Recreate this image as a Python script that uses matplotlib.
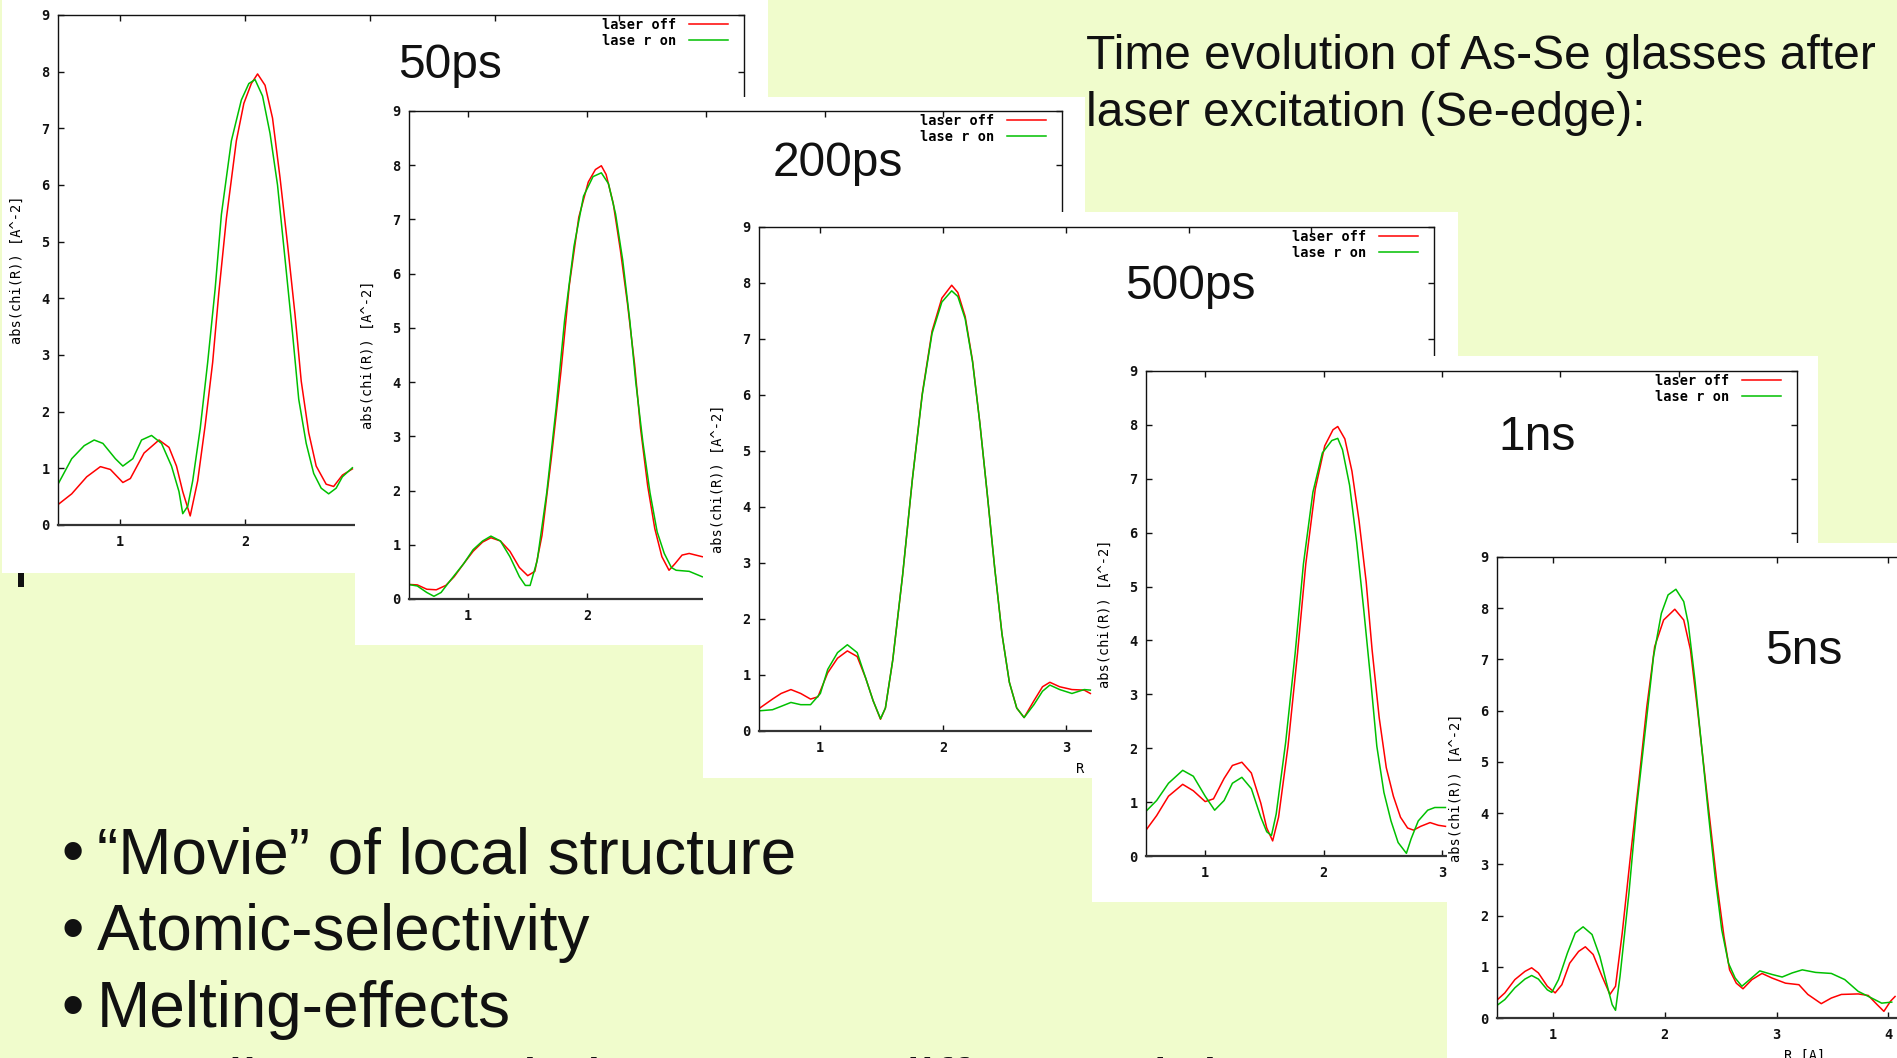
import matplotlib
matplotlib.use('Agg')
import matplotlib.pyplot as plt
from matplotlib.patches import Rectangle

W, H = 1897, 1058
BG = '#F0FCCC'
RED = '#FF0000'
GREEN = '#00C000'

# ---------------- data (R in Angstrom, |chi(R)| in A^-2) ----------------
delays = ['50ps', '200ps', '500ps', '1ns', '5ns']
legend_labels = ['laser off', 'lase r on']
x_ticks = [1, 2, 3, 4, 5]
y_ticks = [0, 1, 2, 3, 4, 5, 6, 7, 8, 9]
y_label = 'abs(chi(R)) [A^-2]'
x_label = 'R [A]'

# 50 ps
r_off_1 = [0.50, 0.61, 0.73, 0.84, 0.92, 1.02, 1.08, 1.19, 1.31, 1.39, 1.45, 1.50, 1.56, 1.62, 1.68, 1.74, 1.79,
           1.85, 1.93, 1.99, 2.05, 2.10, 2.16, 2.22, 2.28, 2.34, 2.40, 2.45, 2.51, 2.57, 2.65, 2.71, 2.78, 2.86]
v_off_1 = [0.36, 0.55, 0.85, 1.03, 0.98, 0.75, 0.82, 1.27, 1.50, 1.37, 1.04, 0.59, 0.16, 0.78, 1.76, 2.87, 4.11,
           5.41, 6.78, 7.44, 7.79, 7.96, 7.76, 7.18, 6.13, 4.96, 3.72, 2.54, 1.63, 1.04, 0.72, 0.68, 0.88, 0.99]
r_on_1 = [0.50, 0.61, 0.71, 0.79, 0.86, 0.96, 1.02, 1.10, 1.17, 1.25, 1.33, 1.41, 1.47, 1.50, 1.54, 1.58, 1.64,
          1.70, 1.76, 1.81, 1.89, 1.97, 2.03, 2.08, 2.14, 2.20, 2.26, 2.32, 2.38, 2.43, 2.49, 2.55, 2.61, 2.67,
          2.73, 2.78, 2.86]
v_on_1 = [0.72, 1.17, 1.40, 1.50, 1.44, 1.17, 1.04, 1.17, 1.50, 1.58, 1.44, 1.04, 0.59, 0.20, 0.33, 0.78, 1.70,
          2.87, 4.17, 5.48, 6.78, 7.50, 7.79, 7.86, 7.57, 6.91, 6.00, 4.70, 3.39, 2.22, 1.44, 0.91, 0.65, 0.55,
          0.65, 0.85, 1.01]

# 200 ps
r_off_2 = [0.49, 0.57, 0.65, 0.73, 0.81, 0.88, 0.96, 1.04, 1.12, 1.19, 1.27, 1.35, 1.43, 1.50, 1.56, 1.62, 1.70,
           1.78, 1.85, 1.93, 2.01, 2.07, 2.12, 2.16, 2.22, 2.28, 2.34, 2.40, 2.45, 2.51, 2.57, 2.63, 2.69, 2.74,
           2.80, 2.86, 2.97]
v_off_2 = [0.27, 0.26, 0.18, 0.17, 0.25, 0.41, 0.65, 0.88, 1.05, 1.13, 1.07, 0.88, 0.58, 0.43, 0.51, 1.17, 2.62,
           4.20, 5.78, 7.04, 7.69, 7.92, 7.99, 7.83, 7.30, 6.44, 5.45, 4.33, 3.15, 2.09, 1.30, 0.78, 0.53, 0.65,
           0.81, 0.84, 0.78]
r_on_2 = [0.49, 0.57, 0.65, 0.71, 0.77, 0.84, 0.96, 1.04, 1.12, 1.19, 1.27, 1.35, 1.43, 1.48, 1.52, 1.58, 1.66,
          1.74, 1.81, 1.89, 1.97, 2.05, 2.12, 2.18, 2.24, 2.30, 2.36, 2.41, 2.47, 2.53, 2.59, 2.65, 2.71, 2.75,
          2.86, 2.97]
v_on_2 = [0.27, 0.24, 0.12, 0.05, 0.12, 0.32, 0.65, 0.91, 1.07, 1.16, 1.07, 0.78, 0.41, 0.25, 0.25, 0.71, 1.96,
          3.54, 5.13, 6.51, 7.43, 7.79, 7.86, 7.66, 7.10, 6.25, 5.13, 4.00, 2.89, 1.96, 1.24, 0.84, 0.58, 0.53,
          0.51, 0.41]

# 500 ps
r_off_3 = [0.50, 0.61, 0.68, 0.76, 0.84, 0.92, 0.98, 1.06, 1.14, 1.22, 1.30, 1.37, 1.43, 1.49, 1.53, 1.59, 1.67,
           1.75, 1.83, 1.91, 1.99, 2.07, 2.12, 2.18, 2.24, 2.30, 2.36, 2.42, 2.48, 2.54, 2.60, 2.66, 2.74, 2.81,
           2.87, 2.95, 3.05, 3.15, 3.20]
v_off_3 = [0.40, 0.57, 0.67, 0.74, 0.67, 0.57, 0.61, 1.04, 1.30, 1.43, 1.33, 0.94, 0.54, 0.21, 0.41, 1.27, 2.78,
           4.50, 6.02, 7.14, 7.73, 7.96, 7.83, 7.40, 6.61, 5.49, 4.23, 2.92, 1.73, 0.87, 0.41, 0.24, 0.54, 0.79,
           0.87, 0.79, 0.74, 0.73, 0.67]
r_on_3 = [0.50, 0.61, 0.68, 0.76, 0.84, 0.92, 1.00, 1.06, 1.14, 1.22, 1.30, 1.37, 1.43, 1.49, 1.53, 1.59, 1.67,
          1.75, 1.83, 1.91, 1.99, 2.07, 2.12, 2.18, 2.24, 2.30, 2.36, 2.42, 2.48, 2.54, 2.60, 2.66, 2.74, 2.81,
          2.87, 2.95, 3.05, 3.15, 3.20]
v_on_3 = [0.36, 0.38, 0.44, 0.51, 0.47, 0.47, 0.67, 1.10, 1.40, 1.54, 1.40, 0.94, 0.54, 0.22, 0.41, 1.27, 2.78,
          4.50, 6.00, 7.10, 7.66, 7.86, 7.76, 7.36, 6.59, 5.49, 4.23, 2.92, 1.73, 0.87, 0.41, 0.24, 0.47, 0.71,
          0.82, 0.74, 0.67, 0.74, 0.73]

# 1 ns
r_off_4 = [0.50, 0.59, 0.69, 0.81, 0.90, 1.00, 1.07, 1.16, 1.23, 1.31, 1.39, 1.47, 1.52, 1.57, 1.62, 1.70, 1.78,
           1.85, 1.93, 2.01, 2.08, 2.12, 2.18, 2.24, 2.30, 2.36, 2.41, 2.47, 2.53, 2.59, 2.65, 2.71, 2.76, 2.82,
           2.90, 2.97, 3.03]
v_off_4 = [0.48, 0.75, 1.11, 1.33, 1.21, 1.01, 1.06, 1.44, 1.68, 1.74, 1.54, 0.98, 0.52, 0.28, 0.72, 2.04, 3.76,
           5.42, 6.81, 7.61, 7.91, 7.97, 7.74, 7.14, 6.22, 5.09, 3.83, 2.57, 1.64, 1.11, 0.72, 0.52, 0.48, 0.55,
           0.62, 0.57, 0.55]
r_on_4 = [0.50, 0.59, 0.69, 0.81, 0.90, 1.00, 1.08, 1.16, 1.23, 1.31, 1.39, 1.47, 1.52, 1.56, 1.60, 1.68, 1.76,
          1.83, 1.91, 1.99, 2.07, 2.12, 2.16, 2.22, 2.28, 2.34, 2.40, 2.45, 2.51, 2.57, 2.63, 2.70, 2.74, 2.80,
          2.88, 2.94, 3.03]
v_on_4 = [0.83, 1.03, 1.35, 1.59, 1.48, 1.11, 0.85, 1.03, 1.35, 1.46, 1.25, 0.72, 0.45, 0.38, 0.78, 2.11, 3.76,
          5.42, 6.75, 7.48, 7.71, 7.75, 7.54, 6.88, 5.82, 4.56, 3.23, 2.04, 1.18, 0.65, 0.25, 0.05, 0.32, 0.65,
          0.85, 0.90, 0.90]

# 5 ns
r_off_5 = [0.49, 0.57, 0.66, 0.75, 0.81, 0.87, 0.95, 1.02, 1.08, 1.15, 1.23, 1.29, 1.36, 1.44, 1.51, 1.56, 1.62,
           1.69, 1.77, 1.84, 1.91, 1.99, 2.09, 2.17, 2.23, 2.29, 2.35, 2.41, 2.47, 2.53, 2.58, 2.64, 2.70, 2.78,
           2.87, 2.96, 3.08, 3.20, 3.28, 3.40, 3.49, 3.58, 3.73, 3.82, 3.90, 3.96, 4.02, 4.06]
v_off_5 = [0.33, 0.49, 0.75, 0.91, 0.98, 0.88, 0.62, 0.49, 0.65, 1.07, 1.30, 1.39, 1.24, 0.81, 0.46, 0.62, 1.66,
           3.09, 4.65, 6.08, 7.25, 7.77, 7.98, 7.77, 7.19, 6.08, 4.91, 3.74, 2.57, 1.59, 0.94, 0.68, 0.57, 0.75,
           0.87, 0.78, 0.68, 0.65, 0.46, 0.28, 0.39, 0.46, 0.47, 0.44, 0.26, 0.13, 0.33, 0.42]
r_on_5 = [0.49, 0.57, 0.66, 0.75, 0.81, 0.87, 0.95, 0.99, 1.05, 1.13, 1.20, 1.27, 1.35, 1.42, 1.48, 1.53, 1.56,
          1.60, 1.68, 1.75, 1.83, 1.90, 1.97, 2.03, 2.10, 2.17, 2.21, 2.27, 2.33, 2.39, 2.45, 2.51, 2.57, 2.63,
          2.69, 2.76, 2.85, 2.96, 3.05, 3.14, 3.23, 3.35, 3.49, 3.61, 3.73, 3.85, 3.94, 4.03]
v_on_5 = [0.23, 0.36, 0.59, 0.76, 0.83, 0.76, 0.55, 0.50, 0.75, 1.27, 1.66, 1.78, 1.63, 1.20, 0.68, 0.26, 0.15,
          0.81, 2.44, 4.13, 5.69, 7.06, 7.90, 8.26, 8.37, 8.13, 7.71, 6.60, 5.30, 4.00, 2.77, 1.72, 1.07, 0.78,
          0.62, 0.75, 0.92, 0.85, 0.80, 0.88, 0.94, 0.89, 0.87, 0.75, 0.52, 0.39, 0.29, 0.31]

title_lines = ['Time evolution of As-Se glasses after', 'laser excitation (Se-edge):']
bullets = ['\u201cMovie\u201d of local structure', 'Atomic-selectivity', 'Melting-effects',
           'Small structural changes at different delays']

off_r = [r_off_1, r_off_2, r_off_3, r_off_4, r_off_5]
off_v = [v_off_1, v_off_2, v_off_3, v_off_4, v_off_5]
on_r = [r_on_1, r_on_2, r_on_3, r_on_4, r_on_5]
on_v = [v_on_1, v_on_2, v_on_3, v_on_4, v_on_5]

# ---------------- layout (pixel boxes: left, top, right, bottom) ----------------
axes_px = [(58, 15, 744, 525), (409, 111, 1062, 599), (759, 227, 1434, 731),
           (1146, 371, 1797, 856), (1497, 557, 2112, 1018)]
white_px = [(2, 0, 768, 573), (355, 97, 1085, 645), (703, 212, 1458, 778),
            (1092, 356, 1818, 902), (1447, 543, 1897, 1058)]
label_px = [(398, 78), (773, 176), (1125, 299), (1498, 450), (1765, 664)]

plt.rcParams['font.family'] = 'DejaVu Sans Mono'
plt.rcParams['font.weight'] = 'bold'

fig = plt.figure(figsize=(W / 100, H / 100), dpi=100)
fig.patch.set_facecolor(BG)

GP = 9.8
for i in range(5):
    l, t, r, b = axes_px[i]
    w, h = r - l, b - t
    wl, wt, wr, wb = white_px[i]
    fig.add_artist(Rectangle((wl / W, 1 - wb / H), (wr - wl) / W, (wb - wt) / H,
                             transform=fig.transFigure, facecolor='white',
                             edgecolor='none', zorder=10 * (i + 1)))
    ax = fig.add_axes([l / W, 1 - b / H, w / W, h / H])
    ax.set_zorder(10 * (i + 1) + 1)
    ax.set_facecolor('none')
    ax.plot(off_r[i], off_v[i], color=RED, lw=1.1, label=legend_labels[0],
            solid_joinstyle='round')
    ax.plot(on_r[i], on_v[i], color=GREEN, lw=1.1, label=legend_labels[1],
            solid_joinstyle='round')
    ax.set_xlim(0.5, 6)
    ax.set_ylim(0, 9)
    ax.set_xticks(x_ticks)
    ax.set_yticks(y_ticks)
    ax.tick_params(direction='in', top=True, right=True, length=4, width=1,
                   labelsize=GP, color='#111111', labelcolor='#111111')
    ax.tick_params(axis='x', pad=7)
    ax.tick_params(axis='y', pad=6)
    for s in ax.spines.values():
        s.set_linewidth(1.0)
        s.set_color('#111111')
    ax.spines['bottom'].set_linewidth(1.6)
    ax.spines['bottom'].set_color('#333333')
    ax.set_ylabel(y_label, fontsize=GP)
    ax.yaxis.set_label_coords(-34 / w, 0.5)
    ax.set_xlabel(x_label, fontsize=GP)
    ax.xaxis.set_label_coords(0.5, -31 / h)
    ax.legend(loc='upper right', bbox_to_anchor=(1 - 16 / w, 1 - 3 / h), frameon=False,
              markerfirst=False, borderpad=0, borderaxespad=0, handlelength=2.9,
              handletextpad=0.9, labelspacing=0.15, fontsize=GP)
    lx, ly = label_px[i]
    fig.text(lx / W, 1 - ly / H, delays[i], family='Liberation Sans', weight='normal',
             fontsize=34.5, color='#111111', ha='left', va='baseline', zorder=10 * (i + 1) + 2)

# slide text
fig.text(1086 / W, 1 - 69 / H, title_lines[0], family='Liberation Sans', weight='normal',
         fontsize=34.5, color='#111111', ha='left', va='baseline', zorder=2)
fig.text(1086 / W, 1 - 126 / H, title_lines[1], family='Liberation Sans', weight='normal',
         fontsize=34.5, color='#111111', ha='left', va='baseline', zorder=2)
for k, txt in enumerate(bullets):
    yb = 873 + 77 * k
    fig.text(62 / W, 1 - yb / H, '\u2022', family='Liberation Sans', weight='normal',
             fontsize=46, color='#111111', ha='left', va='baseline', zorder=2)
    fig.text(97 / W, 1 - yb / H, txt, family='Liberation Sans', weight='normal',
             fontsize=46, color='#111111', ha='left', va='baseline', zorder=2)

fig.add_artist(Rectangle((18 / W, 1 - 587 / H), 6 / W, 14 / H, transform=fig.transFigure,
                         facecolor='#111111', edgecolor='none', zorder=3))

fig.savefig('out.png', dpi=100, facecolor=BG)
